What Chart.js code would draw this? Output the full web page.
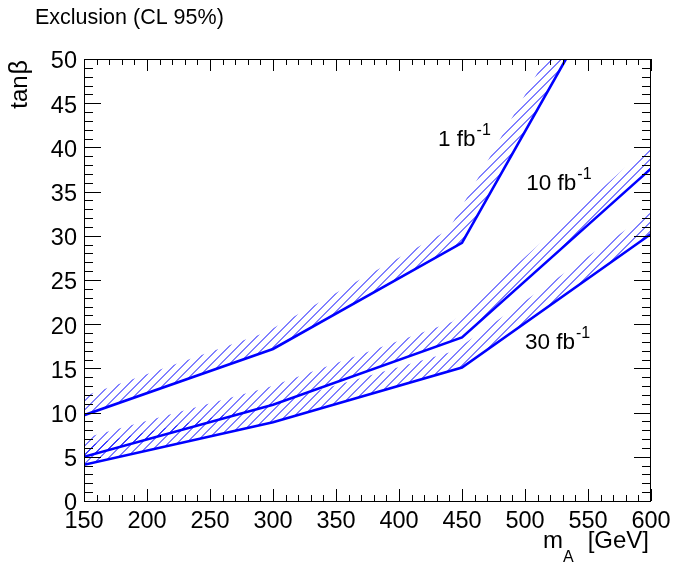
<!DOCTYPE html>
<html lang="en">
<head>
  <meta charset="UTF-8" />
  <title>Exclusion (CL 95%)</title>
  <script src="https://cdn.jsdelivr.net/npm/chart.js"></script>
  <style>
    body { margin: 0; background: #fff; }
    canvas { display: block; }
  </style>
</head>
<body>
<canvas id="excl" width="673" height="564"></canvas>
<script>
  // m_A points (GeV) and tan(beta) exclusion limits per luminosity
  const massA = [150, 300, 450, 600];
  const tanb1fb = [9.7, 17.2, 29.2, 67.0];
  const tanb10fb = [5.0, 10.9, 18.5, 37.6];
  const tanb30fb = [4.1, 8.9, 15.1, 30.2];
  const lumiLabels = ['1 fb', '10 fb', '30 fb'];
  const xTickLabels = ['150', '200', '250', '300', '350', '400', '450', '500', '550', '600'];
  const yTickLabels = ['0', '5', '10', '15', '20', '25', '30', '35', '40', '45', '50'];

  const FONT = '"Liberation Sans", Arial, Helvetica, sans-serif';
  const BLUE = '#0000ff';

  function toXY(ys) {
    return massA.map((m, i) => ({ x: m, y: ys[i] }));
  }

  // hatched band drawn on the upper side of each limit line (ROOT style)
  function drawBand(ctx, pts, area, w) {
    ctx.save();
    ctx.beginPath();
    ctx.rect(area.left, area.top, area.right - area.left, area.bottom - area.top);
    ctx.clip();
    ctx.beginPath();
    const n = pts.length - 1;
    for (let i = 0; i < n; i++) {
      let a = pts[i], b = pts[i + 1];
      const dx = b.x - a.x, dy = b.y - a.y, len = Math.hypot(dx, dy);
      const ux = dx / len, uy = dy / len;
      // stretch the end segments so the band reaches the frame
      if (i === 0) a = { x: a.x - ux * w * 2, y: a.y - uy * w * 2 };
      if (i === n - 1) b = { x: b.x + ux * w * 2, y: b.y + uy * w * 2 };
      const nx = uy * w, ny = -ux * w;
      ctx.moveTo(a.x, a.y);
      ctx.lineTo(b.x, b.y);
      ctx.lineTo(b.x + nx, b.y + ny);
      ctx.lineTo(a.x + nx, a.y + ny);
      ctx.closePath();
    }
    ctx.clip();
    ctx.beginPath();
    for (let c = area.left + area.top + 0.5; c < area.right + area.bottom; c += 9) {
      ctx.moveTo(c - area.top, area.top);
      ctx.lineTo(c - area.bottom, area.bottom);
    }
    ctx.strokeStyle = BLUE;
    ctx.lineWidth = 1;
    ctx.stroke();
    ctx.restore();
  }

  function supText(ctx, x, y, main, sup) {
    ctx.font = '22.5px ' + FONT;
    ctx.fillText(main, x, y);
    const w = ctx.measureText(main).width;
    ctx.font = '16px ' + FONT;
    ctx.fillText(sup, x + w + 1, y - 11);
  }

  const rootStyle = {
    id: 'rootStyle',
    beforeDatasetsDraw(chart) {
      const ctx = chart.ctx;
      chart.data.datasets.forEach((ds, i) => {
        const pts = chart.getDatasetMeta(i).data.map(p => ({ x: p.x, y: p.y }));
        drawBand(ctx, pts, chart.chartArea, 18);
      });
    },
    afterDraw(chart) {
      const ctx = chart.ctx;
      const a = chart.chartArea;
      const xs = chart.scales.x, ys = chart.scales.y;
      ctx.save();
      ctx.strokeStyle = '#000';
      ctx.lineWidth = 1;
      ctx.strokeRect(a.left + 0.5, a.top + 0.5, a.right - a.left - 1, a.bottom - a.top);

      // tick marks inside the frame
      ctx.beginPath();
      for (let v = 150; v <= 600; v += 10) {
        const px = Math.round(xs.getPixelForValue(v)) + 0.5;
        const len = (v % 50 === 0) ? 12 : 6;
        ctx.moveTo(px, a.bottom); ctx.lineTo(px, a.bottom - len);
        ctx.moveTo(px, a.top); ctx.lineTo(px, a.top + len);
      }
      for (let v = 0; v <= 50; v += 1) {
        const py = Math.round(ys.getPixelForValue(v)) + 0.5;
        const len = (v % 5 === 0) ? 17 : 9;
        ctx.moveTo(a.left, py); ctx.lineTo(a.left + len, py);
        ctx.moveTo(a.right, py); ctx.lineTo(a.right - len, py);
      }
      ctx.stroke();

      // tick labels
      ctx.fillStyle = '#000';
      ctx.font = '23.5px ' + FONT;
      ctx.textAlign = 'center';
      ctx.textBaseline = 'alphabetic';
      xTickLabels.forEach(t => ctx.fillText(t, xs.getPixelForValue(Number(t)), 528));
      ctx.textAlign = 'right';
      ctx.textBaseline = 'middle';
      yTickLabels.forEach(t => ctx.fillText(t, 77, ys.getPixelForValue(Number(t)) + 3));

      // curve labels
      ctx.textAlign = 'left';
      ctx.textBaseline = 'alphabetic';
      supText(ctx, xs.getPixelForValue(431), ys.getPixelForValue(40.2), lumiLabels[0], '-1');
      supText(ctx, xs.getPixelForValue(501), ys.getPixelForValue(35.2), lumiLabels[1], '-1');
      supText(ctx, xs.getPixelForValue(500), ys.getPixelForValue(17.2), lumiLabels[2], '-1');

      // title
      ctx.font = '21.5px ' + FONT;
      ctx.fillText('Exclusion (CL 95%)', 35, 24);

      // x axis title: m_A [GeV], right aligned
      ctx.font = '24px ' + FONT;
      const wm = ctx.measureText('m').width;
      const wg = ctx.measureText('[GeV]').width;
      ctx.font = '16px ' + FONT;
      const wa = ctx.measureText('A').width;
      const gap = 14;
      let x0 = 649 - (wm + wa + gap + wg);
      ctx.font = '24px ' + FONT;
      ctx.fillText('m', x0, 548);
      ctx.fillText('[GeV]', x0 + wm + wa + gap, 548);
      ctx.font = '16px ' + FONT;
      ctx.fillText('A', x0 + wm, 562);

      // y axis title
      ctx.translate(27, 60);
      ctx.rotate(-Math.PI / 2);
      ctx.textAlign = 'right';
      ctx.font = '25px ' + FONT;
      ctx.fillText('\u03b2', 0, 0);
      const wb = ctx.measureText('\u03b2').width;
      ctx.font = '24px ' + FONT;
      ctx.fillText('tan', -wb - 1, 0);
      ctx.restore();
    }
  };

  const lineStyle = { borderColor: BLUE, borderWidth: 2.6, pointRadius: 0, fill: false, tension: 0, clip: 0 };

  new Chart(document.getElementById('excl').getContext('2d'), {
    type: 'line',
    data: {
      datasets: [
        { label: lumiLabels[0], data: toXY(tanb1fb), ...lineStyle },
        { label: lumiLabels[1], data: toXY(tanb10fb), ...lineStyle },
        { label: lumiLabels[2], data: toXY(tanb30fb), ...lineStyle }
      ]
    },
    options: {
      responsive: false,
      animation: false,
      devicePixelRatio: 1,
      layout: { padding: { left: 84, top: 59, right: 22, bottom: 63 } },
      plugins: { legend: { display: false }, tooltip: { enabled: false } },
      scales: {
        x: { type: 'linear', min: 150, max: 600, display: false },
        y: { type: 'linear', min: 0, max: 50, display: false }
      }
    },
    plugins: [rootStyle]
  });
</script>
</body>
</html>
